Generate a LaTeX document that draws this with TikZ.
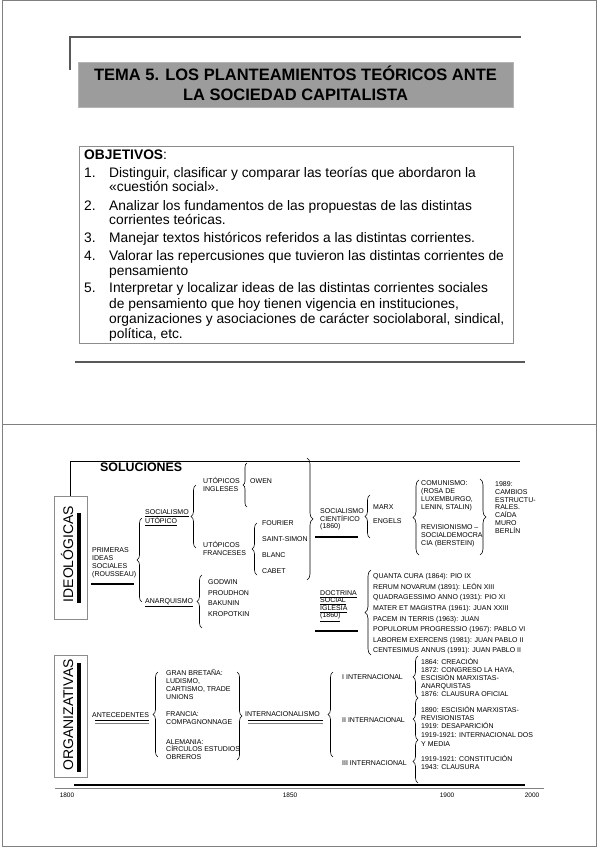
\documentclass[tikz,border=0pt]{standalone}
\usepackage{fontspec}
\setmainfont{Liberation Sans}
\usetikzlibrary{decorations.pathreplacing}
\definecolor{frameCol}{HTML}{808080}
\definecolor{ruleCol}{HTML}{595959}
\definecolor{titleCol}{HTML}{9C9C9C}
\definecolor{edgeCol}{HTML}{B4B4B4}
\definecolor{boxEdge}{HTML}{8C8C8C}
\tikzset{
  frameln/.style={draw=frameCol, line width=0.9pt},
  slideln/.style={draw=ruleCol, line width=1.5pt},
  titlebox/.style={draw=edgeCol, fill=titleCol, line width=0.8pt, inner sep=0pt},
  objbox/.style={draw=boxEdge, fill=white, line width=0.9pt, inner sep=0pt},
  ttl/.style={inner sep=0pt, font=\fontsize{16.5}{20}\selectfont\bfseries, text height=11.9pt, text depth=0pt},
  objl/.style={anchor=west, inner sep=0pt, font=\fontsize{13.8}{15}\selectfont, text height=11pt, text depth=2.6pt},
  lbl/.style={anchor=west, inner sep=0pt, align=left, font=\fontsize{7}{#1}\selectfont},
  lbl/.default=8,
  sidebox/.style={draw=boxEdge, fill=white, line width=0.8pt, inner sep=0pt},
  sidetxt/.style={rotate=90, inner sep=0pt, font=\fontsize{14}{14}\selectfont, text height=10pt, text depth=0pt},
  yr/.style={inner sep=0pt, font=\fontsize{6.5}{7}\selectfont},
  brc/.style={decorate, decoration={brace, amplitude=#1}, line width=0.6pt},
  brc/.default=5pt,
  hbar/.style={line width=2pt},
}
% braces: x of the ends, top y, bottom y
\newcommand{\brL}[4][5pt]{\draw[brc=#1] (#2,#4) -- (#2,#3);}
\newcommand{\brR}[4][5pt]{\draw[brc=#1] (#2,#3) -- (#2,#4);}
% double rule under a heading
\newcommand{\dline}[3]{\draw[line width=1.5pt] (#1,#3) -- (#2,#3);
  \draw[frameCol, line width=0.8pt] (#1,#3+2.8) -- (#2,#3+2.8);}
\begin{document}
\begin{tikzpicture}[x=1pt,y=-1pt]
  \useasboundingbox (0,0) rectangle (599,848);
  \draw[frameln] (2.5,0.7) rectangle (596.8,846.5);
  \draw[frameln] (2.5,424) -- (596.8,424);

  % first slide
  \draw[slideln] (70,70) -- (70,37) -- (521,37);
  \draw[slideln] (75,362) -- (525,362);
  \node[titlebox, minimum width=435, minimum height=45] (tbox) at (295.5,84.5) {};
  \node[ttl] (t1) at (295.5,75) {TEMA 5. LOS PLANTEAMIENTOS TEÓRICOS ANTE};
  \node[ttl] (t2) at (295.5,95) {LA SOCIEDAD CAPITALISTA};
  \node[objbox, minimum width=434, minimum height=197] (obox) at (296,244.5) {};
  \node[objl] (ohead) at (84,155.7) {\textbf{OBJETIVOS}:};
  \foreach \yy/\nn in {173.7/1, 206/2, 238/3, 256/4, 288/5}
    \node[objl] (on\nn) at (84,\yy) {\nn.};
  \foreach \yy/\txt [count=\k] in {
      173.7/{Distinguir, clasificar y comparar las teorías que abordaron la},
      187.7/{«cuestión social».},
      206/{Analizar los fundamentos de las propuestas de las distintas},
      220.7/{corrientes teóricas.},
      238/{Manejar textos históricos referidos a las distintas corrientes.},
      256/{Valorar las repercusiones que tuvieron las distintas corrientes de},
      271.7/{pensamiento},
      288/{Interpretar y localizar ideas de las distintas corrientes sociales},
      304/{de pensamiento que hoy tienen vigencia en instituciones,},
      319/{organizaciones y asociaciones de carácter sociolaboral, sindical,},
      334/{política, etc.}}
    \node[objl] (ol\k) at (109,\yy) {\txt};

  % second slide
  \node[sidebox, minimum width=33, minimum height=123] (ideo) at (70.5,557.5) {};
  \node[sidetxt] (ideot) at (68,554) {IDEOLÓGICAS};
  \fill (77,513) rectangle (81,603);
  \node[sidebox, minimum width=33, minimum height=122] (orga) at (70.5,716) {};
  \node[sidetxt] (orgat) at (68,715) {ORGANIZATIVAS};
  \fill (77,663) rectangle (81,772);
  \draw[line width=1pt] (ideo.north) |- (520,461);
  \node[anchor=west, inner sep=0pt, font=\fontsize{12.4}{14}\selectfont\bfseries] (sol) at (100,467) {SOLUCIONES};

  \node[lbl] (prim) at (92,562.5) {PRIMERAS\\IDEAS\\SOCIALES\\(ROUSSEAU)};
  \draw[hbar] (91,584) -- (134,584);
  \node[lbl] (sutop) at (145,517.5) {\underline{SOCIALISMO}\\\underline{UTÓPICO}};
  \node[lbl] (anar) at (145,603) {\underline{ANARQUISMO}};
  \node[lbl] (ing) at (203,484.5) {UTÓPICOS\\INGLESES};
  \node[lbl] (fra) at (203,548.5) {UTÓPICOS\\FRANCESES};
  \node[lbl] (owen) at (250,481) {OWEN};
  \node[lbl=16] (frl) at (262,547) {FOURIER\\SAINT-SIMON\\BLANC\\CABET};
  \node[lbl=10.6] (anl) at (208,598) {GODWIN\\PROUDHON\\BAKUNIN\\KROPOTKIN};
  \node[lbl=7.5] (scien) at (320,519.5) {SOCIALISMO\\CIENTÍFICO\\(1860)};
  \draw[hbar] (315,537) -- (358,537);
  \node[lbl] (marx) at (373,507) {MARX};
  \node[lbl] (eng) at (373,521) {ENGELS};
  \node[lbl] (com) at (421,496) {COMUNISMO:\\(ROSA DE\\LUXEMBURGO,\\LENIN, STALIN)};
  \node[lbl] (rev) at (421,536) {REVISIONISMO –\\SOCIALDEMOCRA\\CIA (BERSTEIN)};
  \node[lbl=7.8] (ber) at (495,507.4) {1989:\\CAMBIOS\\ESTRUCTU-\\RALES.\\CAÍDA\\MURO\\BERLÍN};
  \node[lbl=7.5] (doc) at (320,606) {\underline{DOCTRINA}\\\underline{SOCIAL}\\\underline{IGLESIA}\\\underline{(1860)}};
  \draw[hbar] (315,631) -- (358,631);
  \node[lbl=10.6] (enc) at (373,614) {QUANTA CURA (1864): PIO IX\\RERUM NOVARUM (1891): LEÓN XIII\\
    QUADRAGESSIMO ANNO (1931): PIO XI\\MATER ET MAGISTRA (1961): JUAN XXIII\\
    PACEM IN TERRIS (1963): JUAN\\POPULORUM PROGRESSIO (1967): PABLO VI\\
    LABOREM EXERCENS (1981): JUAN PABLO II\\CENTESIMUS ANNUS (1991): JUAN PABLO II};

  \brL[4pt]{247}{463}{507}
  \brL{196}{485}{548}
  \brL{257}{523}{575}
  \brR[6pt]{307}{458}{580}
  \brL{142}{518}{602}
  \brL{202}{575}{628}
  \brL{370}{495}{538}
  \brL[6pt]{419}{480}{555}
  \brR[6pt]{480}{479}{555}
  \brL[6pt]{371}{570}{655}

  \node[lbl] (ante) at (92,715) {ANTECEDENTES};
  \dline{95}{149}{720.5}
  \node[lbl] (gb) at (166,684) {GRAN BRETAÑA:\\LUDISMO,\\CARTISMO, TRADE\\UNIONS};
  \node[lbl] (fr) at (166,718) {FRANCIA:\\COMPAGNONNAGE};
  \node[lbl=7.5] (al) at (166,749.5) {ALEMANIA:\\CÍRCULOS ESTUDIOS\\OBREROS};
  \node[lbl] (intl) at (245,714) {INTERNACIONALISMO};
  \dline{248}{323}{720.5}
  \node[lbl] (i1) at (342,677) {I INTERNACIONAL};
  \node[lbl] (i2) at (342,720) {II INTERNACIONAL};
  \node[lbl] (i3) at (342,763) {III INTERNACIONAL};
  \node[lbl] (i1t) at (421,677) {1864: CREACIÓN\\1872: CONGRESO LA HAYA,\\ESCISIÓN MARXISTAS-\\ANARQUISTAS\\1876: CLAUSURA OFICIAL};
  \node[lbl] (i2t) at (421,717) {1890: ESCISIÓN MARXISTAS-\\REVISIONISTAS\\1919: DESAPARICIÓN};
  \node[lbl=9] (i2b) at (421,739.5) {1919-1921: INTERNACIONAL DOS\\Y MEDIA};
  \node[lbl=8.5] (i3t) at (421,762.5) {1919-1921: CONSTITUCIÓN\\1943: CLAUSURA};

  \brL{158}{672}{757}
  \brR{237}{672}{760}
  \brL{333}{672}{757}
  \brL{418}{656}{698}
  \brL{418}{698}{740}
  \brL{418}{740}{783}

  % time axis
  \draw[line width=2pt] (74,785) -- (525,785);
  \draw[frameCol, line width=0.8pt] (55,788.5) -- (544,788.5);
  \foreach \xx/\yl in {67/1800, 290/1850, 447/1900, 532/2000}
    \node[yr] (y\yl) at (\xx,795) {\yl};
\end{tikzpicture}
\end{document}
